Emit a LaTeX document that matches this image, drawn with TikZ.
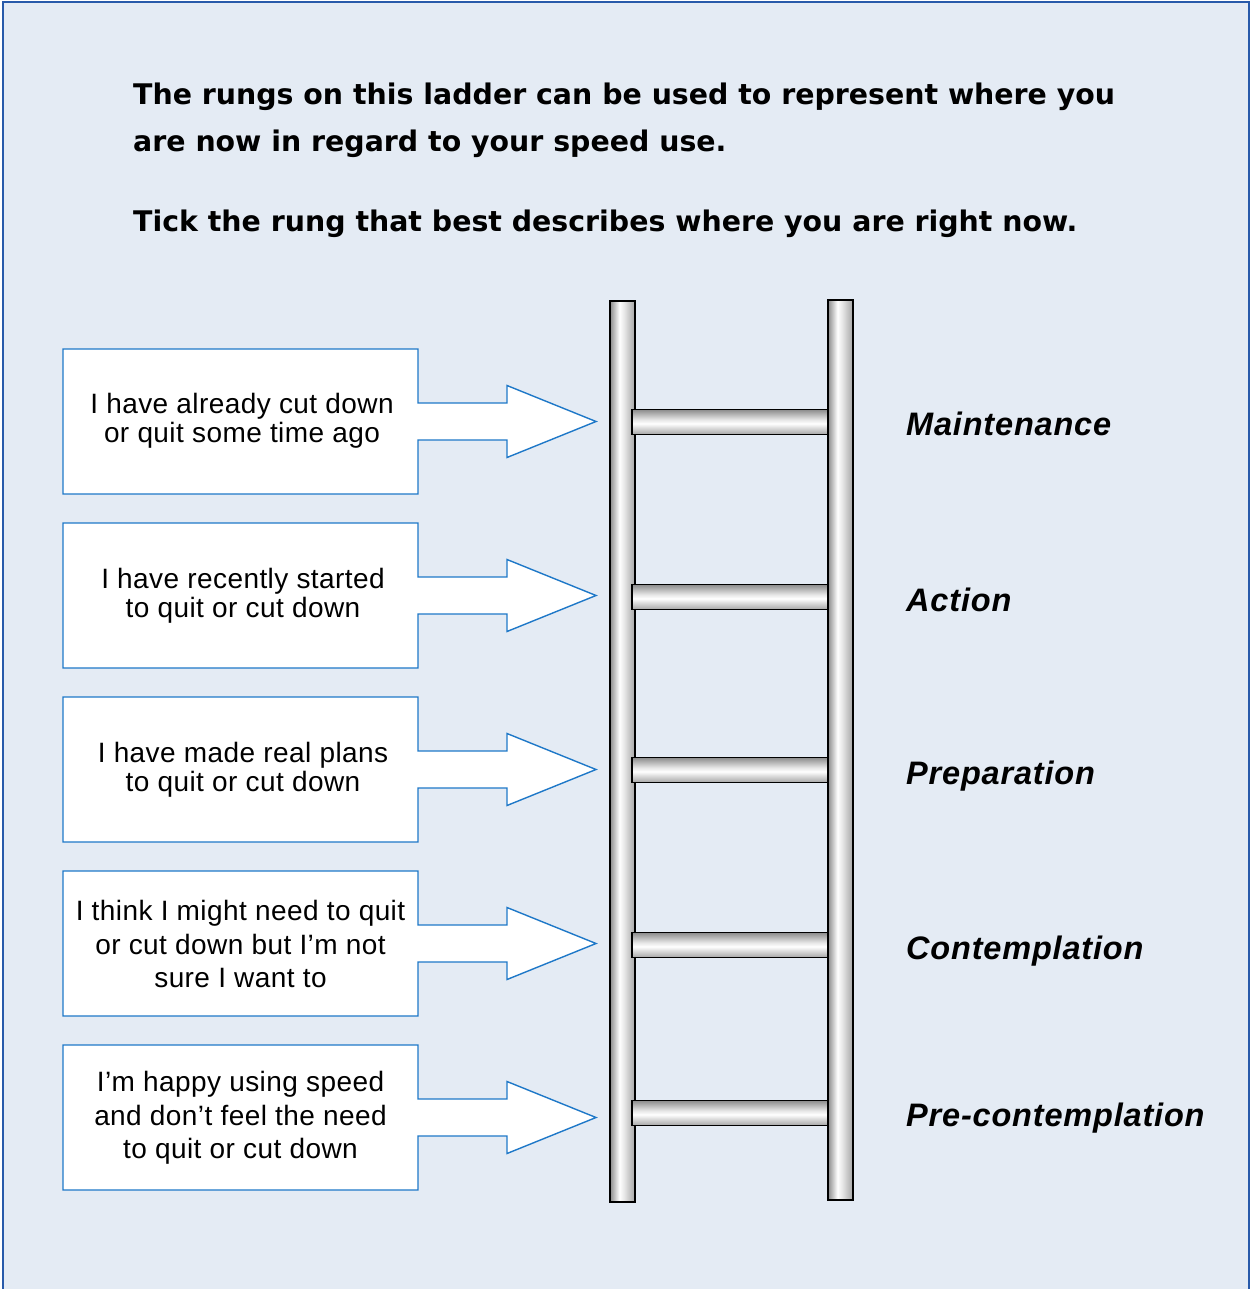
\documentclass[tikz,border=0pt]{standalone}
\usepackage{fontspec}
\setmainfont{Liberation Sans}
\newfontfamily\headfont{DejaVu Sans}
\newfontfamily\boxfont[LetterSpace=1.5]{Liberation Sans}
\newfontfamily\stagefont[LetterSpace=2.5]{Liberation Sans}

\definecolor{panelbg}{RGB}{228,235,244}
\definecolor{panelline}{RGB}{40,90,170}
\definecolor{calloutline}{RGB}{30,120,200}
\definecolor{steeldark}{RGB}{140,140,140}
\definecolor{steelmid}{RGB}{165,165,165}

% metal tube shadings: rails across their width, rungs across their height
\pgfdeclarehorizontalshading{railshade}{100bp}{color(0bp)=(steeldark); color(25bp)=(steeldark); color(44bp)=(white); color(52bp)=(white!92!black); color(75bp)=(steelmid); color(100bp)=(steelmid)}
\pgfdeclareverticalshading{rungshade}{100bp}{color(0bp)=(steelmid); color(25bp)=(steelmid); color(47bp)=(white); color(55bp)=(white!90!black); color(75bp)=(steeldark); color(100bp)=(steeldark)}

\begin{document}
\begin{tikzpicture}[x=1pt,y=-1pt,
  panel/.style={draw=panelline, fill=panelbg, line width=1.6pt},
  callout/.style={draw=calloutline, fill=white, line width=1.4pt, line join=miter},
  calltext/.style={align=center, font=\boxfont\fontsize{28}{29}\selectfont, inner sep=0pt},
  calltextlong/.style={calltext, font=\boxfont\fontsize{28}{33.5}\selectfont},
  headline/.style={anchor=base west, inner sep=0pt, font=\headfont\bfseries\fontsize{28.4}{48}\selectfont},
  stage/.style={anchor=base west, inner sep=0pt, font=\stagefont\bfseries\itshape\fontsize{32.5}{36}\selectfont},
  rail/.style={draw=black, line width=1.5pt, shading=railshade},
  rung/.style={draw=black, line width=1.5pt, shading=rungshade}]

\useasboundingbox (0,0) rectangle (1250,1289);
\fill[white] (0,0) rectangle (1250,1289);
\path[panel] (3,2) rectangle (1249,1320);

% heading
\node[headline] (h1) at (133,104.5) {The rungs on this ladder can be used to represent where you};
\node[headline] (h2) at (133,152) {are now in regard to your speed use.};
\node[headline] (h3) at (133,231.5) {Tick the rung that best describes where you are right now.};

% box-and-arrow callouts
\foreach \t in {349,523,697,871,1045} {
  \pgfmathsetmacro\c{\t+72.5}
  \draw[callout] (63,\t) -- (418,\t) -- (418,\c-18.5) -- (507,\c-18.5) -- (507,\c-36)
    -- (596,\c) -- (507,\c+36) -- (507,\c+18.5) -- (418,\c+18.5) -- (418,\t+145)
    -- (63,\t+145) -- cycle;
}
\node[calltext] (c1) at (242,421) {I have already cut down\\or quit some time ago};
\node[calltext] (c2) at (243,595.5) {I have recently started\\to quit or cut down};
\node[calltext] (c3) at (243,769.5) {I have made real plans\\to quit or cut down};
\node[calltextlong] (c4) at (240.5,944) {I think I might need to quit\\or cut down but I’m not\\sure I want to};
\node[calltextlong] (c5) at (240.5,1118) {I’m happy using speed\\and don’t feel the need\\to quit or cut down};

% ladder
\path[rail] (610,301) rectangle (635,1202);
\path[rail] (828,300) rectangle (853,1200);
\foreach \y in {422,597,770,945,1113} {
  \path[rung] (632,\y-12.5) rectangle (828,\y+12.5);
}

% stage names
\node[stage] (s1) at (906,435) {Maintenance};
\node[stage] (s2) at (906,611) {Action};
\node[stage] (s3) at (906,784) {Preparation};
\node[stage] (s4) at (906,959) {Contemplation};
\node[stage] (s5) at (906,1126) {Pre-contemplation};
\end{tikzpicture}
\end{document}
